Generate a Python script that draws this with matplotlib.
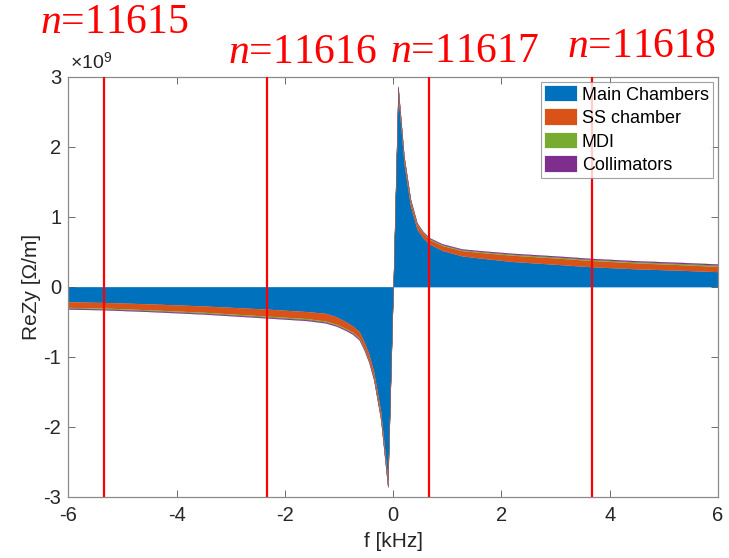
"""Transverse impedance ReZy by chamber group, with the n=11615..11618 sidebands."""

import matplotlib

matplotlib.use("Agg")
import matplotlib.pyplot as plt

plt.rcParams["font.family"] = ["Liberation Sans", "DejaVu Sans"]
plt.rcParams["axes.unicode_minus"] = False
plt.rcParams["mathtext.fontset"] = "custom"
plt.rcParams["mathtext.rm"] = "Liberation Sans"
plt.rcParams["mathtext.it"] = "Liberation Serif:italic"

# frequency grid [kHz] and the four stacked contributions [1e9 Ohm/m]
FREQ = [-6.0, -5.35, -4.5, -3.5, -2.33, -1.6, -1.25, -1.05, -0.88, -0.75, -0.63, -0.54,
        -0.45, -0.36, -0.23, -0.14, -0.10, 0.0, 0.09, 0.2, 0.32, 0.44, 0.55, 0.67,
        0.9, 1.27, 1.6, 2.2, 3.0, 3.66, 4.5, 5.3, 6.0]
MAIN = [-0.215, -0.225, -0.245, -0.275, -0.32, -0.355, -0.38, -0.43, -0.50, -0.56, -0.64,
        -0.78, -0.96, -1.21, -1.78, -2.45, -2.75, 0.0, 2.75, 1.76, 1.15, 0.82, 0.70, 0.61,
        0.52, 0.44, 0.41, 0.36, 0.32, 0.285, 0.255, 0.235, 0.215]
SS = [-0.08, -0.08, -0.085, -0.09, -0.10, -0.10, -0.11, -0.105, -0.095, -0.09, -0.09,
      -0.09, -0.09, -0.09, -0.09, -0.09, -0.09, 0.0, 0.09, 0.08, 0.075, 0.07, 0.065, 0.065,
      0.07, 0.075, 0.08, 0.09, 0.09, 0.09, 0.085, 0.08, 0.075]
MDI = [-0.013, -0.013, -0.013, -0.014, -0.015, -0.015, -0.015, -0.015, -0.015, -0.015,
       -0.015, -0.015, -0.015, -0.015, -0.015, -0.015, -0.015, 0.0, 0.015, 0.015, 0.015,
       0.013, 0.013, 0.013, 0.013, 0.013, 0.014, 0.015, 0.016, 0.016, 0.017, 0.018, 0.02]
COLL = [-0.012, -0.012, -0.012, -0.012, -0.012, -0.013, -0.013, -0.013, -0.013, -0.014,
        -0.014, -0.015, -0.015, -0.015, -0.015, -0.015, -0.015, 0.0, 0.015, 0.015, 0.013,
        0.012, 0.012, 0.012, 0.012, 0.012, 0.012, 0.013, 0.014, 0.014, 0.014, 0.015, 0.015]
LABELS = ["Main Chambers", "SS chamber", "MDI", "Collimators"]

# sideband lines [kHz] and their harmonic numbers
LINE_F = [-5.333, -2.333, 0.667, 3.667]
LINE_N = [11615, 11616, 11617, 11618]

XTICKS = [-6, -4, -2, 0, 2, 4, 6]
YTICKS = [-3, -2, -1, 0, 1, 2, 3]

COLORS = ["#0072BD", "#D95319", "#77AC30", "#7E2F8E"]
TEXT = "#262626"
# hand-placed labels (figure px: left, baseline)
LABEL_POS = [(40, 33), (228, 63), (390, 62), (567, 57)]

W, H = 729, 558
fig = plt.figure(figsize=(W / 100, H / 100), dpi=100)
ax = fig.add_axes([68.3 / W, 1 - 496.7 / H, (718 - 68.3) / W, (496.7 - 76.7) / H])

scale = 1e9
ax.stackplot(FREQ, *[[v * scale for v in s] for s in (MAIN, SS, MDI, COLL)],
             colors=COLORS, labels=LABELS, linewidth=0.15, edgecolor="face")
for f in LINE_F:
    ax.axvline(f, color="#FF0000", lw=1.6, zorder=3)

ax.set_xlim(-6, 6)
ax.set_ylim(-3e9, 3e9)
ax.set_xticks(XTICKS, [str(t) for t in XTICKS])
ax.set_yticks([t * scale for t in YTICKS], [str(t) for t in YTICKS])
ax.text(0.002, 1.008, r"$\times10^{9}$", transform=ax.transAxes, fontsize=14,
        color=TEXT, ha="left", va="bottom")
ax.tick_params(direction="in", top=True, right=True, length=5, width=0.6,
               colors="#555555", labelcolor=TEXT, labelsize=14.5)
ax.tick_params(axis="x", pad=7)
ax.tick_params(axis="y", pad=5)
for sp in ax.spines.values():
    sp.set_color("#8a8a8a")
    sp.set_linewidth(0.9)
ax.set_xlabel("f [kHz]", fontsize=15, color=TEXT, labelpad=5)
ax.set_ylabel("ReZy [Ω/m]", fontsize=15, color=TEXT, labelpad=2)

leg = ax.legend(loc="upper right", fontsize=13, frameon=True, fancybox=False,
                edgecolor="#8a8a8a", borderpad=0.2, labelspacing=0.3,
                handlelength=1.8, handleheight=0.95, handletextpad=0.25,
                borderaxespad=0.3)
leg.get_frame().set_linewidth(0.8)

for (px, py), n in zip(LABEL_POS, LINE_N):
    fig.text(px / W, 1 - py / H, f"$n$={n}", color="#FF0000", fontsize=30,
             family="Liberation Serif", ha="left", va="baseline")

fig.savefig("out.png", dpi=100)
